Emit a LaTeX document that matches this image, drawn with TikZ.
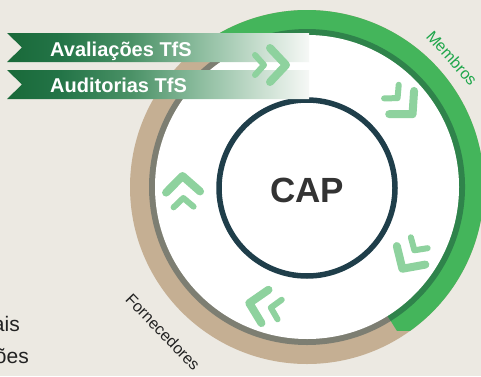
\documentclass[tikz,border=0pt]{standalone}
\usepackage{fontspec}
\setmainfont{Liberation Sans}
\definecolor{bg}{HTML}{ECE9E2}
\definecolor{tanband}{HTML}{C5AF93}
\definecolor{graythin}{HTML}{7D7E72}
\definecolor{grn}{HTML}{44B55B}
\definecolor{dkgrn}{HTML}{2F834B}
\definecolor{navy}{HTML}{1F3E4A}
\definecolor{capgray}{HTML}{333333}
\definecolor{chevc}{HTML}{8ED29E}
\definecolor{memgreen}{HTML}{1DA64A}
\definecolor{txt}{HTML}{222222}
\definecolor{bnA}{HTML}{196939}
\definecolor{bnB}{HTML}{237447}
\definecolor{bnC}{HTML}{4A9166}
\definecolor{bnD}{HTML}{8DBD9F}
\definecolor{bnE}{HTML}{C8DECF}
\definecolor{bnF}{HTML}{F6F8F6}
\pgfdeclarehorizontalshading{bannershade}{100bp}{color(0bp)=(bnA); color(25bp)=(bnA); color(33.8bp)=(bnB); color(45.4bp)=(bnC); color(57bp)=(bnD); color(66.9bp)=(bnE); color(75bp)=(bnF); color(100bp)=(bnF)}
\tikzset{
  chevstroke/.style={draw=chevc, line cap=round, line join=round},
  dchev/.pic={
    \draw[chevstroke, line width=8pt] (-2,17) -- (14,0) -- (-2,-17);
    \draw[chevstroke, line width=6pt] (-17,10) -- (-8,0) -- (-17,-10);
  },
  bantext/.style={font=\bfseries\fontsize{20}{24}\selectfont, text=white, inner sep=0pt, anchor=base west},
  ringlabel/.style={font=\fontsize{16}{19}\selectfont, inner sep=0pt},
  sidetext/.style={font=\fontsize{21}{24}\selectfont, text=txt, inner sep=0pt, anchor=base east},
}
\begin{document}
\begin{tikzpicture}[x=1pt,y=1pt]
\useasboundingbox (0,0) rectangle (481,376);
\fill[bg] (0,0) rectangle (481,376);
% ring
\begin{scope}[shift={(307,189)}]
  \fill[tanband] (0,0) circle[radius=177pt];
  \fill[graythin] (0,0) circle[radius=158pt];
  \begin{scope}
    \clip (-307,-143) rectangle (174,187);
    \fill[grn] (-58:177pt) arc[start angle=-58, end angle=125, radius=177pt] -- (125:152pt) arc[start angle=125, end angle=-58, radius=152pt] -- cycle;
    \fill[dkgrn] (-58:158pt) arc[start angle=-58, end angle=125, radius=158pt] -- (125:152pt) arc[start angle=125, end angle=-58, radius=152pt] -- cycle;
  \end{scope}
  \fill[white] (0,0) circle[radius=152pt];
\end{scope}
% centre
\node[circle, draw=navy, line width=5.5pt, minimum size=176pt, inner sep=0pt] (ring) at (307,188) {};
\node[font=\bfseries\fontsize{35}{40}\selectfont, text=capgray] (cap) at (307,186) {CAP};
% chevrons inside the ring
\pic[rotate=-47] (c2) at (403,272) {dchev};
\pic[rotate=-123] (c3) at (410,119) {dchev};
\pic[rotate=168] (c4) at (263,70) {dchev};
\pic[rotate=92] (c5) at (183,186) {dchev};
% banners
\shade[shading=bannershade] (7,343) -- (309,343) -- (309,314) -- (7,314) -- (22,328.5) -- cycle;
\shade[shading=bannershade] (7,306) -- (309,306) -- (309,277) -- (7,277) -- (22,291.5) -- cycle;
\node[bantext] (t1) at (50,320) {Avaliações TfS};
\node[bantext] (t2) at (50,284) {Auditorias TfS};
\pic[rotate=0] (c1) at (272,311) {dchev};
% labels
\node[ringlabel, rotate=-48, text=memgreen] (mem) at (452,318) {Membros};
\node[ringlabel, rotate=-46, text=txt] (forn) at (163,44) {Fornecedores};
\node[sidetext] (l1) at (20,45) {ais};
\node[sidetext] (l2) at (29,13) {ões};
\end{tikzpicture}
\end{document}
